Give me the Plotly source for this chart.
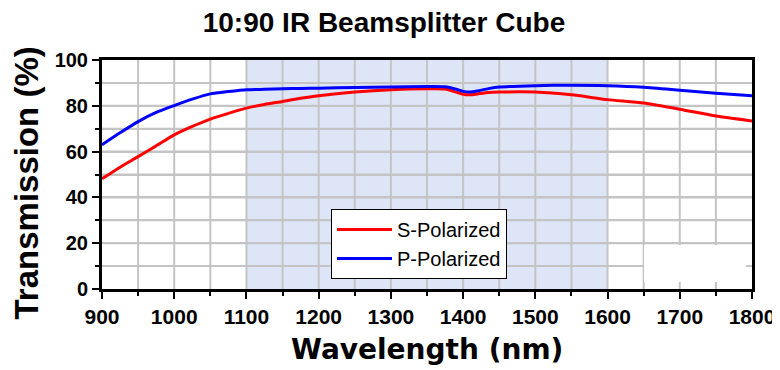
import plotly.graph_objects as go

# Data
wavelength_nm = [900, 925, 950, 975, 1000, 1025, 1050, 1075, 1100, 1125, 1150, 1175, 1200,
                 1250, 1300, 1350, 1375, 1390, 1400, 1410, 1420, 1435, 1450, 1500, 1550,
                 1600, 1650, 1700, 1750, 1800]
s_polarized = [48.1, 53.2, 57.8, 62.5, 67.3, 71.0, 74.2, 76.7, 79.0, 80.6, 81.9, 83.3, 84.4,
               86.0, 87.0, 87.4, 87.3, 86.0, 85.0, 84.8, 85.2, 85.8, 86.0, 86.0, 84.8,
               82.7, 81.2, 78.5, 75.5, 73.4]
p_polarized = [63.0, 68.2, 73.1, 77.1, 80.1, 82.9, 85.2, 86.2, 87.0, 87.2, 87.4, 87.6, 87.7,
               88.0, 88.2, 88.4, 88.3, 87.3, 86.3, 86.0, 86.5, 87.5, 88.2, 88.8, 89.0,
               88.8, 88.1, 86.8, 85.5, 84.4]
series_names = ["S-Polarized", "P-Polarized"]
band_range = [1100, 1600]
x_range = [900, 1800]
y_range = [0, 100]
x_major, x_minor = 100, 50
y_major, y_minor = 20, 10

FONT = "Liberation Sans, Arial, sans-serif"
GRID = "#c4c4c4"
W, H = 772, 362  # page body has an 8px margin

fig = go.Figure()
fig.add_trace(go.Scatter(x=wavelength_nm, y=s_polarized, name=series_names[0], mode="lines",
                         line=dict(color="#ff0000", width=3, shape="spline", smoothing=0.6)))
fig.add_trace(go.Scatter(x=wavelength_nm, y=p_polarized, name=series_names[1], mode="lines",
                         line=dict(color="#0000ff", width=3, shape="spline", smoothing=0.6)))

# shaded band (below gridlines)
fig.add_shape(type="rect", xref="x", yref="y", x0=band_range[0], x1=band_range[1],
              y0=y_range[0], y1=y_range[1], fillcolor="#dde5f6", line_width=0, layer="below")
# vertical grid lines every minor step, drawn over the band
for gx in range(x_range[0] + x_minor, x_range[1], x_minor):
    fig.add_shape(type="line", xref="x", yref="y", x0=gx, x1=gx, y0=y_range[0], y1=y_range[1],
                  line=dict(color=GRID, width=2), layer="below")
# horizontal grid lines every minor step, drawn over the band
for gy in range(y_range[0] + y_minor, y_range[1], y_minor):
    fig.add_shape(type="line", xref="x", yref="y", x0=x_range[0], x1=x_range[1], y0=gy, y1=gy,
                  line=dict(color=GRID, width=2), layer="below")
# white patch in the lower-right corner of the reference
fig.add_shape(type="rect", xref="paper", yref="paper", x0=0.834, x1=0.991, y0=0.031, y1=0.192,
              fillcolor="white", line_width=0, layer="above")

axis_common = dict(showline=True, linewidth=3, linecolor="black", mirror=True,
                   ticks="outside", tickwidth=2, tickcolor="black", ticklen=7,
                   zeroline=False, automargin=False, tickmode="linear")

fig.update_xaxes(range=x_range, tick0=x_range[0], dtick=x_major, showgrid=False, **axis_common,
                 tickfont=dict(family=FONT, size=21, color="black", weight="bold"),
                 minor=dict(dtick=x_minor, tick0=x_range[0], ticks="outside", ticklen=4,
                            tickwidth=2, tickcolor="black", showgrid=False))
fig.update_yaxes(range=y_range, tick0=y_range[0], dtick=y_major, **axis_common,
                 showgrid=True, gridcolor=GRID, gridwidth=2,
                 tickfont=dict(family=FONT, size=20, color="black", weight="bold"),
                 minor=dict(dtick=y_minor, tick0=y_range[0], ticks="outside", ticklen=4,
                            tickwidth=2, tickcolor="black", showgrid=True, gridcolor=GRID,
                            gridwidth=2))

# axis titles as annotations for precise placement
fig.add_annotation(text="Wavelength (nm)", xref="paper", yref="paper", x=0.5, y=-0.266,
                   xanchor="center", yanchor="middle", showarrow=False,
                   font=dict(family="DejaVu Sans, sans-serif", size=28, color="black", weight="bold"))
fig.add_annotation(text="Transmission (%)", xref="paper", yref="paper", x=-0.1154, y=0.465,
                   xanchor="center", yanchor="middle", showarrow=False, textangle=-90,
                   font=dict(family=FONT, size=33, color="black", weight="bold"))

fig.update_layout(
    width=W, height=H,
    margin=dict(l=94, r=W - 94 - 650, t=52, b=H - 52 - 229),
    paper_bgcolor="white", plot_bgcolor="white",
    title=dict(text="10:90 IR Beamsplitter Cube", x=(384 - 8) / W, xref="container", xanchor="center",
               y=1 - (22 - 8) / H, yref="container", yanchor="middle",
               font=dict(family=FONT, size=28, color="black", weight="bold")),
    legend=dict(x=(331 - 102) / 650, y=(289 - 209) / 229, xanchor="left", yanchor="top",
                bgcolor="white", bordercolor="black", borderwidth=1, itemwidth=55,
                font=dict(family=FONT, size=20, color="black")),
    showlegend=True,
)

fig.write_html("out.html")
